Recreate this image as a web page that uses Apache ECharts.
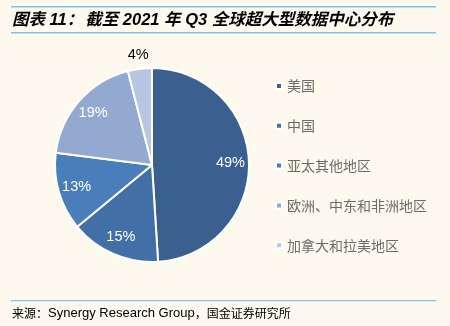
<!DOCTYPE html>
<html><head><meta charset="utf-8">
<script src="https://cdn.jsdelivr.net/npm/echarts@6/dist/echarts.min.js"></script>
<style>html,body{margin:0;padding:0;background:#FEF9EF;}#c{width:450px;height:326px;}</style>
</head><body><div id="c"></div>
<script>
var categories = ['美国', '中国', '亚太其他地区', '欧洲、中东和非洲地区', '加拿大和拉美地区'];
var values = [49, 15, 13, 19, 4];
var colors = ['#3B5F8F', '#426FA5', '#4A7EBB', '#93A9D0', '#B9C6E1'];

var chart = echarts.init(document.getElementById('c'), null, {renderer: 'canvas'});
var data = categories.map(function (n, i) {
  return {name: n, value: values[i], itemStyle: {color: colors[i]}};
});
var labelData = categories.map(function (n, i) {
  var d = {name: n, value: values[i]};
  if (i === 4) {
    d.label = {color: '#000', offset: [-4, -32]};
  }
  return d;
});
chart.setOption({
  backgroundColor: '#FEF9EF',
  animation: false,
  legend: {
    orient: 'vertical', left: 270, top: 74, itemGap: 25.8,
    itemWidth: 6, itemHeight: 6, icon: 'rect',
    data: categories,
    textStyle: {fontSize: 14, color: '#6b6b6b', fontFamily: 'Noto Sans CJK SC'}
  },
  series: [{
    type: 'pie', center: [152, 165], radius: [0, 97], startAngle: 90, clockwise: true,
    data: data, label: {show: false}, labelLine: {show: false},
    itemStyle: {borderColor: '#FFFFFF', borderWidth: 2},
    emphasis: {disabled: true}
  }, {
    type: 'pie', center: [152, 165], radius: [54, 97], startAngle: 90, clockwise: true,
    data: labelData, silent: true, legendHoverLink: false,
    itemStyle: {color: 'rgba(0,0,0,0)'},
    label: {show: true, position: 'inside', formatter: '{c}%', color: '#FFFFFF', fontSize: 14.5, fontFamily: 'Liberation Sans'},
    labelLine: {show: false},
    emphasis: {disabled: true}
  }],
  graphic: [
    {type: 'rect', shape: {x: 11, y: 6, width: 425, height: 1.5}, style: {fill: '#7EC3E8'}},
    {type: 'rect', shape: {x: 11, y: 32, width: 425, height: 1.5}, style: {fill: '#7EC3E8'}},
    {type: 'text', x: 12, y: 20, style: {
      text: '{a|图表 11：}{b|截至 2021 年 Q3 全球超大型数据中心分布}',
      textVerticalAlign: 'middle',
      rich: {
        a: {fill: '#000', font: 'italic bold 16.5px "Liberation Sans", "Noto Sans CJK SC"', padding: [0, 2, 0, 0]},
        b: {fill: '#000', font: 'italic bold 16.5px "Liberation Sans", "Noto Sans CJK SC"'}
      }
    }},
    {type: 'rect', shape: {x: 11, y: 300, width: 425, height: 1.2}, style: {fill: '#7EC3E8'}},
    {type: 'text', x: 12, y: 313, style: {
      text: '{c|来源：}{l|Synergy Research Group}{c|，国金证券研究所}',
      textVerticalAlign: 'middle',
      rich: {
        c: {fill: '#000', font: '12px "Noto Sans CJK SC"'},
        l: {fill: '#000', font: '13px "Liberation Sans"'}
      }
    }}
  ]
});
</script></body></html>
